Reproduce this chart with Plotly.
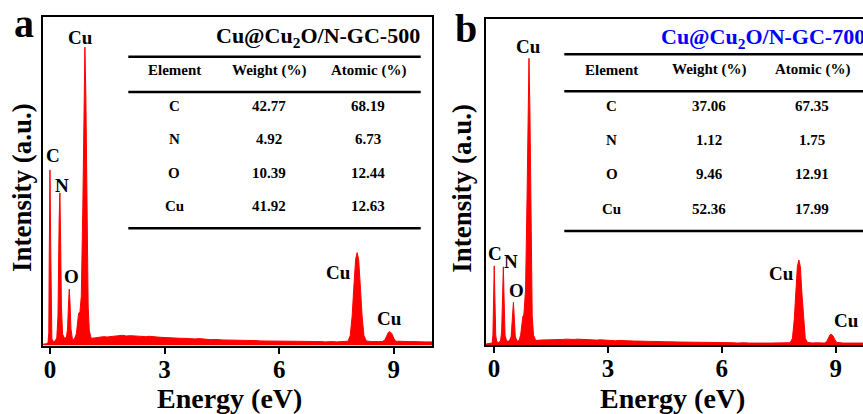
import plotly.graph_objects as go

W, H = 863, 414
FONT = "Liberation Serif"
RED = "#FF0000"

# ---------------- data ----------------
energy_a = [-0.19, -0.10, -0.05, -0.03, -0.02, 0.0, 0.02, 0.035, 0.05, 0.09, 0.14, 0.18, 0.21, 0.24, 0.26, 0.275,
            0.30, 0.33, 0.38, 0.43, 0.46, 0.49, 0.505, 0.525, 0.55, 0.59, 0.64, 0.69, 0.72, 0.75, 0.785,
            0.82, 0.86, 0.89, 0.915, 0.94, 0.97, 1.00, 1.03, 1.07,
            1.1, 1.2, 1.3, 1.4, 1.5, 1.6, 1.7, 1.8, 1.9, 2.0, 2.1, 2.2, 2.3, 2.4, 2.5, 2.6, 2.7, 2.8, 2.9, 3.0,
            3.1, 3.2, 3.3, 3.4, 3.5, 3.6, 3.7, 3.8, 3.9, 4.0, 4.1, 4.2, 4.3, 4.4, 4.5, 4.6, 4.7, 4.8, 4.9, 5.0,
            5.1, 5.2, 5.3, 5.4, 5.5, 5.6, 5.7, 5.8, 5.9, 6.0, 6.1, 6.2, 6.3, 6.4, 6.5, 6.6, 6.7, 6.8, 6.9, 7.0,
            7.1, 7.2, 7.3, 7.4, 7.5, 7.6, 7.7,
            7.80, 7.86, 7.91, 7.95, 8.00, 8.04, 8.08, 8.13, 8.17, 8.22, 8.28,
            8.4, 8.5, 8.6, 8.70, 8.76, 8.81, 8.86, 8.90, 8.95, 9.00, 9.05,
            9.1, 9.2, 9.3, 9.4, 9.5, 9.6, 9.7, 9.8, 9.9, 10.0]
intensity_a = [4, 5, 8, 40, 250, 535, 300, 80, 20, 12, 14, 25, 90, 380, 465, 360,
               120, 35, 22, 25, 50, 140, 172, 130, 50, 18, 20, 35, 75, 98, 103,
               150, 420, 780, 909, 760, 380, 120, 45, 25,
               22, 24, 25, 27, 26, 28, 29, 30, 31, 29, 30, 29, 28, 29, 27, 28, 26, 26, 25, 24,
               25, 23, 23, 22, 22, 21, 21, 20, 21, 19, 19, 18, 19, 18, 17, 17, 17, 16, 16, 15,
               16, 15, 15, 15, 14, 14, 14, 13, 14, 13, 13, 13, 12, 13, 12, 12, 13, 12, 12, 12,
               12, 11, 12, 12, 11, 12, 12,
               13, 30, 90, 170, 262, 283, 262, 170, 90, 30, 14,
               12, 13, 12, 12, 16, 28, 40, 42, 36, 22, 13,
               13, 12, 13, 12, 12, 11, 12, 11, 11, 11]

energy_b = [-0.22, -0.10, -0.05, -0.03, -0.015, 0.005, 0.025, 0.045, 0.07, 0.12, 0.17, 0.20, 0.225, 0.245, 0.265,
            0.29, 0.33, 0.40, 0.45, 0.48, 0.51, 0.535, 0.56, 0.61, 0.66, 0.70, 0.73, 0.76, 0.785,
            0.83, 0.87, 0.90, 0.92, 0.945, 0.975, 1.005, 1.04, 1.08,
            1.1, 1.2, 1.3, 1.4, 1.5, 1.6, 1.7, 1.8, 1.9, 2.0, 2.1, 2.2, 2.3, 2.4, 2.5, 2.6, 2.7, 2.8, 2.9, 3.0,
            3.1, 3.2, 3.3, 3.4, 3.5, 3.6, 3.7, 3.8, 3.9, 4.0, 4.1, 4.2, 4.3, 4.4, 4.5, 4.6, 4.7, 4.8, 4.9, 5.0,
            5.1, 5.2, 5.3, 5.4, 5.5, 5.6, 5.7, 5.8, 5.9, 6.0, 6.1, 6.2, 6.3, 6.4, 6.5, 6.6, 6.7, 6.8, 6.9, 7.0,
            7.1, 7.2, 7.3, 7.4, 7.5, 7.6, 7.7,
            7.80, 7.86, 7.91, 7.95, 7.99, 8.03, 8.07, 8.11, 8.15, 8.20, 8.26,
            8.4, 8.5, 8.6, 8.70, 8.76, 8.81, 8.85, 8.88, 8.93, 8.98, 9.03,
            9.2, 9.5, 10.0]
intensity_b = [3, 4, 6, 30, 130, 243, 130, 30, 10, 8, 12, 40, 150, 240, 140,
               30, 12, 12, 25, 80, 131, 80, 25, 12, 14, 30, 70, 88, 92,
               170, 460, 780, 880, 720, 320, 90, 30, 16,
               14, 15, 15, 16, 16, 17, 16, 17, 18, 17, 17, 18, 17, 16, 17, 16, 15, 16, 15, 14,
               14, 13, 14, 13, 12, 13, 12, 12, 11, 12, 11, 11, 10, 11, 10, 10, 9, 10, 9, 9,
               9, 8, 9, 8, 8, 8, 7, 8, 7, 7, 8, 7, 7, 6, 7, 7, 6, 7, 6, 6,
               7, 6, 6, 6, 6, 6, 6,
               7, 20, 80, 160, 240, 261, 240, 160, 80, 20, 8,
               6, 7, 6, 6, 10, 22, 31, 33, 28, 16, 8,
               6, 6, 6]

x_ticks = [0, 3, 6, 9]
table_header = ["Element", "Weight (%)", "Atomic (%)"]
elements = ["C", "N", "O", "Cu"]
weight_a = ["42.77", "4.92", "10.39", "41.92"]
atomic_a = ["68.19", "6.73", "12.44", "12.63"]
weight_b = ["37.06", "1.12", "9.46", "52.36"]
atomic_b = ["67.35", "1.75", "12.91", "17.99"]
title_a = "Cu@Cu<sub>2</sub>O/N-GC-500"
title_b = "Cu@Cu<sub>2</sub>O/N-GC-700"


def fx(p):
    return p / W


def fy(p):
    return 1 - p / H


fig = go.Figure()
fig.add_trace(go.Scatter(x=energy_a, y=intensity_a, mode="lines", fill="tozeroy",
                         line=dict(color=RED, width=1), fillcolor=RED,
                         xaxis="x", yaxis="y", showlegend=False, hoverinfo="skip"))
fig.add_trace(go.Scatter(x=energy_b, y=intensity_b, mode="lines", fill="tozeroy",
                         line=dict(color=RED, width=1), fillcolor=RED,
                         xaxis="x2", yaxis="y2", showlegend=False, hoverinfo="skip"))

tickfont = dict(family=FONT, size=25, color="black", weight="bold")
xcommon = dict(tickvals=x_ticks, ticks="outside", ticklen=6, tickwidth=2, tickcolor="black",
               showline=True, linewidth=2, linecolor="black", mirror=True, showgrid=False,
               zeroline=False, tickfont=tickfont, automargin=False, ticklabelstandoff=-6)
ycommon = dict(range=[0, 1000], showticklabels=False, ticks="", showline=True, linewidth=2,
               linecolor="black", showgrid=False, zeroline=False, automargin=False)

fig.update_layout(
    width=W, height=H, margin=dict(l=0, r=0, t=0, b=0),
    paper_bgcolor="white", plot_bgcolor="white", showlegend=False,
    xaxis=dict(domain=[fx(42.7), fx(432)], range=[-0.19, 10.0], anchor="y", **xcommon),
    yaxis=dict(domain=[fy(345.5), fy(17.3)], anchor="x", mirror=True, **ycommon),
    xaxis2=dict(domain=[fx(485.7), 1.0], range=[-0.22, 9.72], anchor="y2", **xcommon),
    yaxis2=dict(domain=[fy(345), fy(19.3)], anchor="x2", mirror=False, **ycommon),
)

ann = []


def text(x, y, s, size, xanchor="center", color="black", angle=0, xref="paper", yref="paper"):
    ann.append(dict(x=x, y=y, xref=xref, yref=yref, text="<b>" + s + "</b>", showarrow=False,
                    xanchor=xanchor, yanchor="middle", textangle=angle,
                    font=dict(family=FONT, size=size, color=color)))


# panel letters
text(fx(23.5), fy(23), "a", 40)
text(fx(466), fy(29), "b", 40)
# axis titles
text(fx(22), fy(188), "Intensity (a.u.)", 27, angle=-90)
text(fx(461.7), fy(188), "Intensity (a.u.)", 27, angle=-90)
text(fx(230), fy(398), "Energy (eV)", 28)
text(fx(672), fy(398), "Energy (eV)", 28)

# peak labels panel a
for s, x, y in [("C", 0.09, 580), ("N", 0.32, 487), ("O", 0.57, 210), ("Cu", 0.80, 938),
                ("Cu", 7.56, 223), ("Cu", 8.9, 81)]:
    text(x, y, s, 19, xref="x", yref="y")
# peak labels panel b
for s, x, y in [("C", 0.03, 282), ("N", 0.44, 255), ("O", 0.58, 166), ("Cu", 0.92, 915),
                ("Cu", 7.58, 220), ("Cu", 9.29, 74)]:
    text(x, y, s, 19, xref="x2", yref="y2")

# tables
text(fx(421.7), fy(37.3), title_a, 22, xanchor="right")
text(fx(659), fy(38.3), title_b, 22, xanchor="left", color="#0000FF")

cols_a = [174, 269, 368.3]
rows_a = [106, 139.5, 173, 206]
cols_b = [611.7, 709.3, 812.3]
rows_b = [106, 140, 174.3, 208.5]
for c, h in zip(cols_a, table_header):
    text(fx(c), fy(70.5), h, 15)
for c, h in zip(cols_b, table_header):
    text(fx(c), fy(70), h, 15)
for i, r in enumerate(rows_a):
    for c, v in zip(cols_a, [elements[i], weight_a[i], atomic_a[i]]):
        text(fx(c), fy(r), v, 15)
for i, r in enumerate(rows_b):
    for c, v in zip(cols_b, [elements[i], weight_b[i], atomic_b[i]]):
        text(fx(c), fy(r), v, 15)

shapes = []
for y in [56.7, 92.0, 228.3]:
    shapes.append(dict(type="line", xref="paper", yref="paper", x0=fx(128.3), x1=fx(420.7),
                       y0=fy(y), y1=fy(y), line=dict(color="black", width=2.5)))
for y in [54.3, 91.3, 231]:
    shapes.append(dict(type="line", xref="paper", yref="paper", x0=fx(564.3), x1=1.02,
                       y0=fy(y), y1=fy(y), line=dict(color="black", width=2.5)))

fig.update_layout(annotations=ann, shapes=shapes)
fig.write_html("out.html")
